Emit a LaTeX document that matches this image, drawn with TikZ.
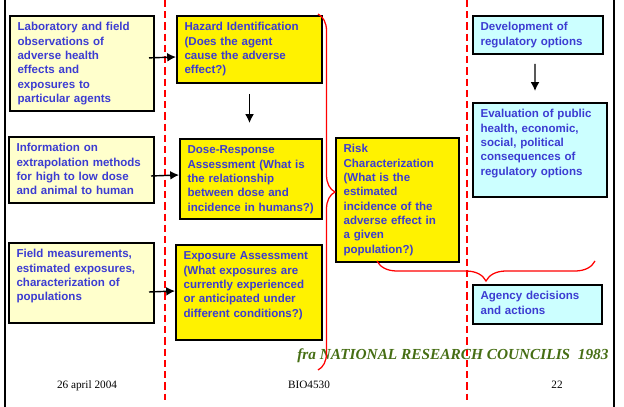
\documentclass[tikz,border=0pt]{standalone}
\usepackage{fontspec}
\setmainfont{Liberation Serif}
\setsansfont{Liberation Sans}
\usetikzlibrary{arrows.meta,decorations.pathreplacing}
\definecolor{txtblue}{RGB}{60,60,210}
\definecolor{paleyel}{RGB}{255,255,204}
\definecolor{paleblue}{RGB}{204,255,255}
\definecolor{citegreen}{RGB}{70,110,20}

\begin{document}
\begin{tikzpicture}[x=0.025cm,y=-0.025cm,>=Latex,
  box/.style={draw=black,line width=1.4pt,anchor=north west,align=left,inner xsep=0.19cm,inner ysep=0.17cm,text height=0.2cm,text=txtblue,font=\sffamily\bfseries\fontsize{8.2}{10.2}\selectfont},
  arr/.style={-{Latex[length=2.2mm,width=2.2mm]},line width=1pt},
  sep/.style={red,line width=1.1pt,dash pattern=on 5pt off 3pt},
  brc/.style={red,line width=0.9pt,decorate,decoration={brace,amplitude=#1}},
  foot/.style={anchor=base,font=\fontsize{8}{10}\selectfont}]
\useasboundingbox (0,0) rectangle (624,407);

% frame and column separators
\draw[line width=1.5pt] (5,0) -- (5,407);
\draw[line width=1.5pt] (614,0) -- (614,407);
\draw[sep] (165,0) -- (165,400);
\draw[sep] (467,0) -- (467,400);

% research
\node[box,fill=paleyel,text width=3.22cm,text depth=1.835cm] (lab) at (9,15) {Laboratory and field\\observations of\\adverse health\\effects and\\exposures to\\particular agents};
\node[box,fill=paleyel,text width=3.245cm,text depth=1.11cm] (info) at (8,136) {Information on\\extrapolation methods\\for high to low dose\\and animal to human};
\node[box,fill=paleyel,text width=3.245cm,text depth=1.46cm] (field) at (8,242) {Field measurements,\\estimated exposures,\\characterization of\\populations};

% risk assessment
\node[box,fill=yellow,text width=3.245cm,text depth=1.135cm] (haz) at (176,15) {Hazard Identification\\(Does the agent\\cause the adverse\\effect?)};
\node[box,fill=yellow,text width=3.17cm,text depth=1.46cm] (dose) at (179,138) {Dose-Response\\Assessment (What is\\the relationship\\between dose and\\incidence in humans?)};
\node[box,fill=yellow,text width=3.27cm,text depth=1.835cm] (expo) at (175,244) {Exposure Assessment\\(What exposures are\\currently experienced\\or anticipated under\\different conditions?)};
\node[box,fill=yellow,text width=2.695cm,text depth=2.56cm] (risk) at (335,137) {Risk\\Characterization\\(What is the\\estimated\\incidence of the\\adverse effect in\\a given\\population?)};

% risk management
\node[box,fill=paleblue,text width=2.87cm,text depth=0.41cm] (devel) at (472,15) {Development of\\regulatory options};
\node[box,fill=paleblue,text width=2.97cm,text depth=1.81cm] (evalu) at (472,102) {Evaluation of public\\health, economic,\\social, political\\consequences of\\regulatory options};
\node[box,fill=paleblue,text width=2.845cm,text depth=0.435cm] (agency) at (472,284) {Agency decisions\\and actions};

\node[anchor=base west,inner sep=0,text=citegreen,font=\bfseries\itshape\fontsize{10.9}{13}\selectfont] (cite) at (297,359) {fra NATIONAL RESEARCH COUNCILIS\ \ 1983};

\node[foot] (date) at (87,388) {26 april 2004};
\node[foot] (code) at (309,388) {BIO4530};
\node[foot] (page) at (557,388) {22};

% arrows
\draw[arr] ([xshift=-0.15cm,yshift=0.14cm]lab.east) -- (haz.west |- 0,57);
\draw[arr] ([xshift=-0.1cm,yshift=-0.15cm]info.east) -- (dose.west |- 0,175);
\draw[arr] ([xshift=-0.15cm,yshift=-0.225cm]field.east) -- (expo.west |- 0,291);
\draw[arr] ([yshift=-0.25cm]haz.south) -- ([yshift=0.375cm]dose.north -| haz.south);
\draw[arr] ([xshift=-0.075cm,yshift=-0.225cm]devel.south) -- ([xshift=-0.125cm,yshift=0.275cm]evalu.north);

% braces
\draw[brc=0.425cm] (318,14) -- (318,370);
\draw[brc=0.5cm] (595,261) -- (377,261);
\end{tikzpicture}
\end{document}
